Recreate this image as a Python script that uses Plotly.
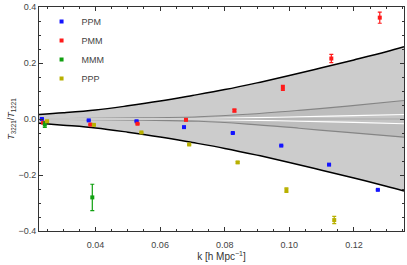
import plotly.graph_objects as go

# ---- band curves ----
band_k = [0.0225, 0.03, 0.04, 0.05, 0.06, 0.07, 0.08, 0.09, 0.10, 0.11, 0.12, 0.13, 0.1355]
outer_upper = [0.016, 0.022, 0.032, 0.047, 0.064, 0.084, 0.105, 0.129, 0.155, 0.183, 0.211, 0.240, 0.258]
outer_lower = [-0.015, -0.022, -0.032, -0.047, -0.064, -0.084, -0.105, -0.129, -0.155, -0.183, -0.211, -0.240, -0.257]

inner_k = [0.0225, 0.04, 0.055, 0.072, 0.087, 0.103, 0.118, 0.1355]
inner_upper = [0.0005, 0.002, 0.004, 0.008, 0.017, 0.031, 0.046, 0.066]
inner_lower = [-0.0005, -0.002, -0.004, -0.008, -0.018, -0.033, -0.048, -0.065]

white_k = [0.0225, 0.05, 0.072, 0.09, 0.103, 0.12, 0.1355]
white_upper = [0.0, 0.0005, 0.002, 0.005, 0.008, 0.012, 0.016]
white_lower = [0.0, -0.0005, -0.002, -0.005, -0.008, -0.012, -0.017]

# ---- data points ----
ppm_k = [0.0234, 0.0379, 0.0527, 0.0674, 0.0825, 0.0975, 0.1123, 0.1274]
ppm_v = [0.000, -0.005, -0.008, -0.029, -0.050, -0.095, -0.163, -0.253]
ppm_e = [0.001, 0.001, 0.001, 0.001, 0.001, 0.001, 0.001, 0.001]

pmm_k = [0.0238, 0.0384, 0.0530, 0.0680, 0.0830, 0.0980, 0.1130, 0.1280]
pmm_v = [-0.013, -0.020, -0.017, -0.003, 0.030, 0.111, 0.216, 0.362]
pmm_e = [0.001, 0.001, 0.001, 0.002, 0.005, 0.009, 0.015, 0.020]

mmm_k = [0.0243, 0.0390]
mmm_v = [-0.020, -0.280]
mmm_e = [0.010, 0.047]

ppp_k = [0.0250, 0.0395, 0.0542, 0.0690, 0.0840, 0.0991, 0.1139]
ppp_v = [-0.008, -0.021, -0.048, -0.091, -0.155, -0.254, -0.361]
ppp_e = [0.001, 0.001, 0.001, 0.002, 0.003, 0.008, 0.013]

x_ticks = [0.04, 0.06, 0.08, 0.10, 0.12]
x_ticklabels = ["0.04", "0.06", "0.08", "0.10", "0.12"]
y_ticks = [-0.4, -0.2, 0.0, 0.2, 0.4]
y_ticklabels = ["\u22120.4", "\u22120.2", "0.0", "0.2", "0.4"]

FONT = "Liberation Sans, Arial, sans-serif"

fig = go.Figure()

def band(k, lo, hi, fillcolor, linecolor, width):
    fig.add_trace(go.Scatter(x=k, y=lo, mode="lines", line=dict(color=linecolor, width=width, shape="spline"),
                             showlegend=False, hoverinfo="skip"))
    fig.add_trace(go.Scatter(x=k, y=hi, mode="lines", line=dict(color=linecolor, width=width, shape="spline"),
                             fill="tonexty", fillcolor=fillcolor, showlegend=False, hoverinfo="skip"))

band(band_k, outer_lower, outer_upper, "#cccccc", "#000000", 1.5)
band(inner_k, inner_lower, inner_upper, "#bdbdbd", "#858585", 1.2)
band(white_k, white_lower, white_upper, "#c4c4c4", "#ffffff", 1.1)
fig.add_trace(go.Scatter(x=[band_k[0], band_k[-1]], y=[0, 0], mode="lines",
                         line=dict(color="#aaaaaa", width=1), showlegend=False, hoverinfo="skip"))

series = [
    ("PPM", ppm_k, ppm_v, ppm_e, "#1414ff"),
    ("PMM", pmm_k, pmm_v, pmm_e, "#ff1a1a"),
    ("MMM", mmm_k, mmm_v, mmm_e, "#10a010"),
    ("PPP", ppp_k, ppp_v, ppp_e, "#b8b000"),
]
for name, k, v, e, c in series:
    fig.add_trace(go.Scatter(
        x=k, y=v, mode="markers", name=name,
        marker=dict(symbol="square", size=4, color=c, line=dict(width=0)),
        error_y=dict(type="data", array=e, visible=True, color=c, thickness=1.2, width=2),
    ))

axis_common = dict(
    showline=True, linecolor="#333333", linewidth=1, mirror="ticks",
    ticks="inside", ticklen=4, tickwidth=1, tickcolor="#333333",
    showgrid=False, zeroline=False,
    tickfont=dict(family=FONT, size=9, color="#444444"),
)

fig.update_layout(
    width=407, height=265,
    margin=dict(l=39, r=2, t=5, b=34),
    paper_bgcolor="white", plot_bgcolor="white",
    xaxis=dict(range=[0.0225, 0.1355], tickvals=x_ticks, ticktext=x_ticklabels,
               minor=dict(dtick=0.005, tick0=0, ticklen=2, ticks="inside", tickcolor="#333333"),
               ticklabelstandoff=5,
               title=dict(text="k [h Mpc<sup>\u22121</sup>]", standoff=4,
                          font=dict(family=FONT, size=10, color="#333333")),
               **axis_common),
    yaxis=dict(range=[-0.4, 0.4], tickvals=y_ticks, ticktext=y_ticklabels,
               minor=dict(dtick=0.05, tick0=0, ticklen=2, ticks="inside", tickcolor="#333333"),
               title=dict(text="<i>T</i><sub>3221</sub>/<i>T</i><sub>1221</sub>", standoff=2,
                          font=dict(family=FONT, size=9, color="#333333")),
               **axis_common),
    legend=dict(x=0.007, y=1.0, xanchor="left", yanchor="top", bgcolor="rgba(0,0,0,0)",
                font=dict(family=FONT, size=9, color="#444444"),
                itemwidth=30, tracegroupgap=0, traceorder="normal"),
    showlegend=True,
)

fig.write_html("out.html", config={"displayModeBar": False},
               post_script="document.body.style.margin='0';document.body.style.overflow='hidden';")
